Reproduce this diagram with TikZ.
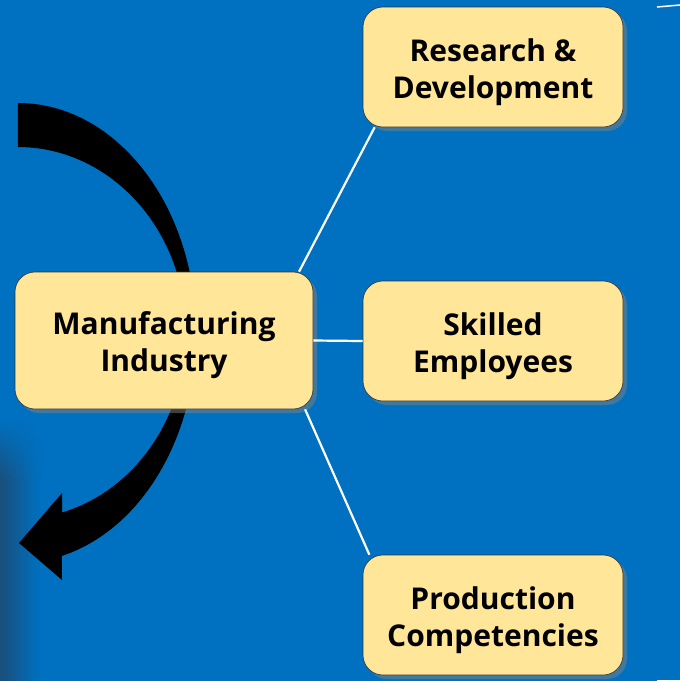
\documentclass[tikz,border=0pt]{standalone}
\usepackage{fontspec}
\setmainfont{Open Sans}
\usetikzlibrary{shadows}
\definecolor{slideblue}{RGB}{0,112,192}
\definecolor{edgeblue}{RGB}{26,78,120}
\definecolor{boxyellow}{RGB}{255,230,153}

\begin{document}
\begin{tikzpicture}[x=1pt,y=-1pt,
      topic/.style={draw=black!80,semithick,fill=boxyellow,rounded corners=20pt,
         minimum width=260pt,minimum height=120pt,
         font=\fontsize{30}{37}\selectfont\bfseries,
         execute at begin node={\rule{0pt}{70pt}},
         drop shadow={shadow xshift=4pt,shadow yshift=-4pt,opacity=0.5}},
      link/.style={white,line width=2.2pt},
      every node/.append style={align=center}]
      %
         \clip (0,0) rectangle (680,681);
         \fill[slideblue] (0,0) rectangle (680,681);
         % dark strip at the lower left, fading in from the top
         \foreach \j in {0,...,9}{
            \pgfmathsetmacro{\p}{100*(1-(\j+0.5)/10)}
            \fill[edgeblue!\p!slideblue] ({4*\j},480) rectangle ({4*\j+4.3},681);
            \shade[top color=slideblue,bottom color=edgeblue!\p!slideblue] ({4*\j},420) rectangle ({4*\j+4.3},480.5);
         }
         % white pieces at the right edge
         \draw[white,line width=1.5pt] (657,7) -- (680,5);
         \draw[white,line width=1.5pt] (657,680.5) -- (680,680.5);
      %
         % curved arrow behind the main box
         \fill[black] (18,103) arc[start angle=-90,end angle=75.7,x radius=178,y radius=230]
            -- (62,580) -- (19,543) -- (62,493) -- (62,512.5)
            arc[start angle=74.8,end angle=-90,x radius=168,y radius=186] -- cycle;
      %%
         \node (manu) at (164,340.5) [topic,minimum width=298pt,minimum height=137pt] {Manufacturing \\ Industry};
         \node (rd) at (493,67) [topic] {Research \& \\ Development};
         \node (skill) at (493,341) [topic] {Skilled \\ Employees};
         \node (prod) at (493,615) [topic] {Production \\ Competencies};
      %
         \draw[link](manu.27)--(rd.207);
         \draw[link](manu.east)--(skill.west);
         \draw[link](manu.-26)--(prod.154);
   \end{tikzpicture}
\end{document}
